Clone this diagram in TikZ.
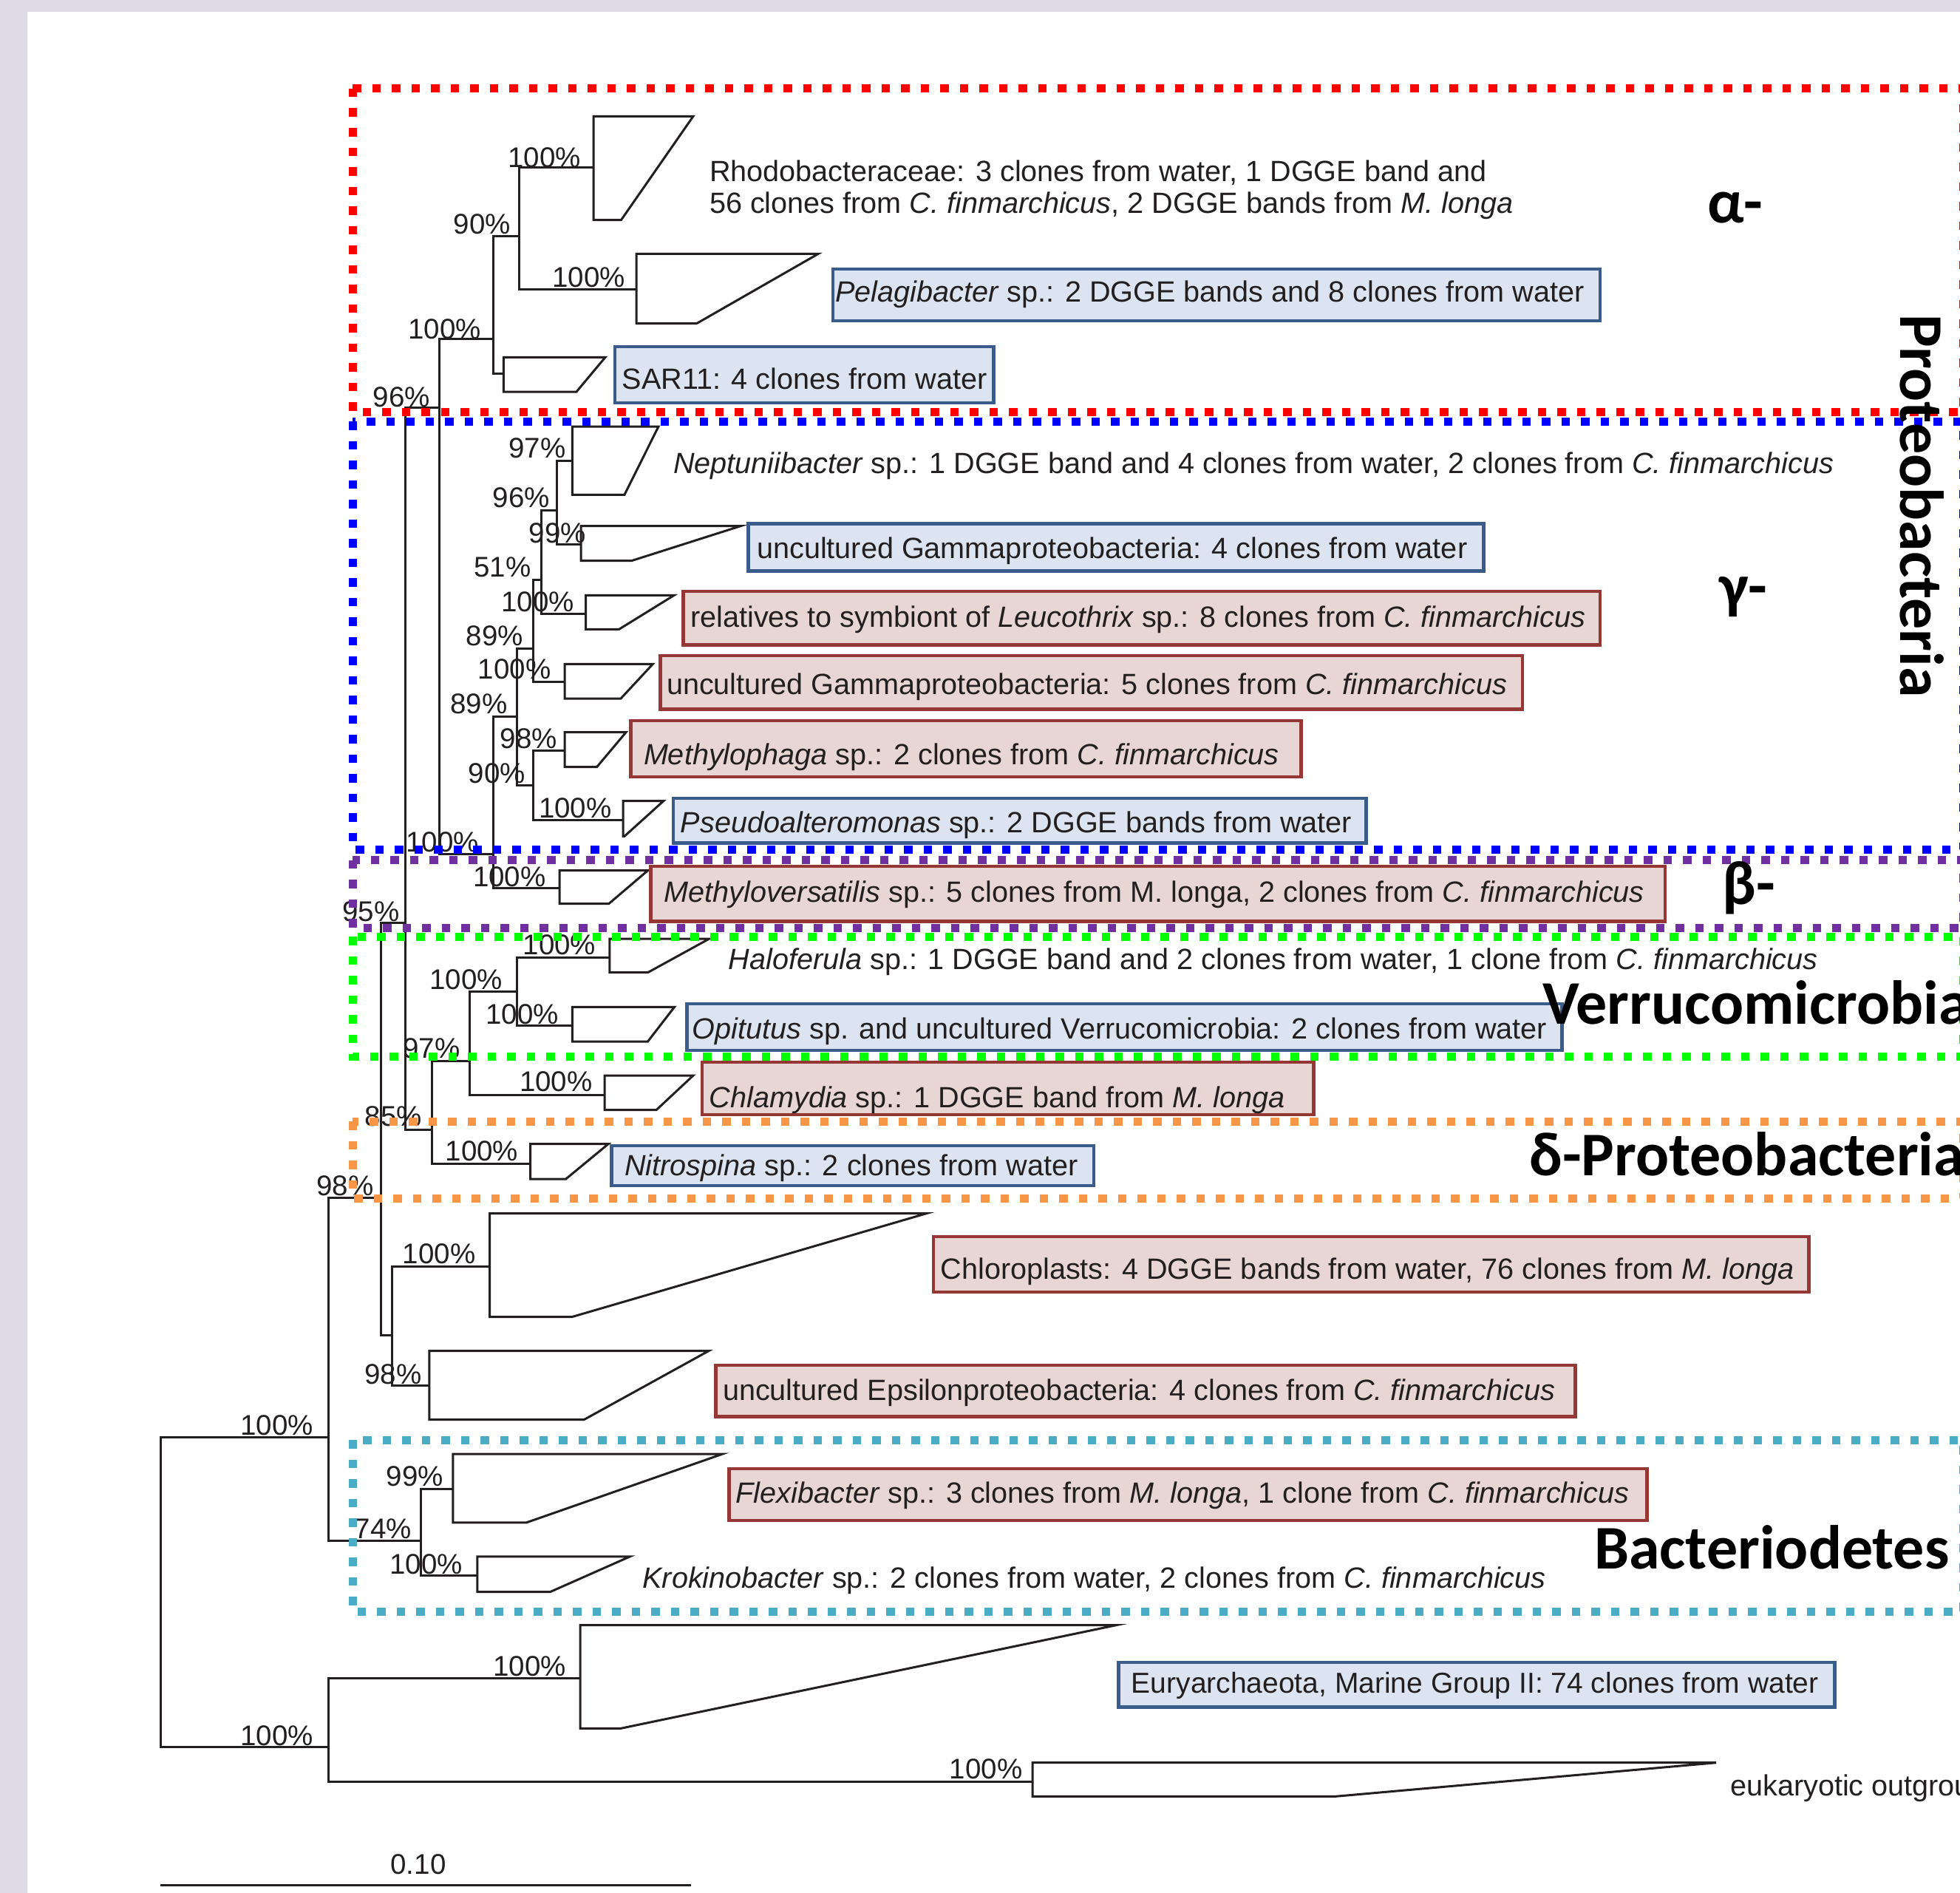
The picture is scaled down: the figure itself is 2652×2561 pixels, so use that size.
\documentclass[tikz,border=0pt]{standalone}
\usepackage{fontspec}
\setmainfont{Liberation Sans}
\newfontfamily\grpfont{Carlito}
\definecolor{pagegray}{RGB}{222,218,230}
\definecolor{ink}{RGB}{35,31,32}
\definecolor{bfill}{RGB}{219,228,240}
\definecolor{bdraw}{RGB}{58,92,138}
\definecolor{rfill}{RGB}{231,214,212}
\definecolor{rdraw}{RGB}{149,55,52}
\definecolor{dRed}{RGB}{255,0,0}
\definecolor{dBlue}{RGB}{0,0,255}
\definecolor{dPurple}{RGB}{112,48,160}
\definecolor{dGreen}{RGB}{0,255,0}
\definecolor{dOrange}{RGB}{247,150,70}
\definecolor{dCyan}{RGB}{75,172,198}
\begin{document}
\begin{tikzpicture}[x=1pt,y=-1pt,
  branch/.style={draw=ink, line width=3pt},
  clade/.style={draw=ink, line width=3pt, line join=miter},
  pct/.style={font=\fontsize{38.5}{40}\selectfont, text=ink, anchor=base east, inner sep=0pt},
  lbl/.style={font=\fontsize{39.6}{44}\selectfont, text=ink, anchor=base west, inner sep=0pt},
  bbox/.style={draw=bdraw, fill=bfill, line width=4.5pt},
  rbox/.style={draw=rdraw, fill=rfill, line width=4.5pt},
  dotbox/.style={line width=11pt, dash pattern=on 11.5pt off 15pt},
  grp/.style={font=\grpfont\bfseries\fontsize{84}{90}\selectfont, text=black, anchor=base west, inner sep=0pt}
]
\useasboundingbox (0,0) rectangle (2652,2561);
\clip (0,0) rectangle (2652,2561);
\fill[pagegray] (0,0) rectangle (2652,2561);
\fill[white] (37,16) rectangle (2652,2561);

% ---------- tree coordinates ----------
\coordinate (root) at (217.3,2150);
\coordinate (nA) at (444.6,1944.6);
\coordinate (nB) at (444,2363.3);
\coordinate (nC) at (515.7,1620);
\coordinate (nD) at (548.5,1248);
\coordinate (nE) at (594.7,551);
\coordinate (nAl) at (667,458);
\coordinate (nA2) at (702.6,319);
\coordinate (lRho) at (803,226);
\coordinate (lPel) at (861,391);
\coordinate (lSAR) at (681.3,505);
\coordinate (nGB) at (667,1155);
\coordinate (nG1) at (699.7,969.7);
\coordinate (nG2) at (721,877.3);
\coordinate (nG3) at (732.4,784.5);
\coordinate (nG4) at (753,690.7);
\coordinate (lNep) at (774.3,623);
\coordinate (lUGB) at (786,736);
\coordinate (lRel) at (792.7,830);
\coordinate (lUGR) at (764,922.9);
\coordinate (nG5) at (721,1062);
\coordinate (lMph) at (764,1015.7);
\coordinate (lPsa) at (843.2,1109.5);
\coordinate (lMvs) at (757,1201);
\coordinate (nF) at (584.8,1528);
\coordinate (nG) at (635.4,1435);
\coordinate (nH) at (699.7,1341.7);
\coordinate (lHal) at (824.8,1295);
\coordinate (lOpi) at (774.3,1387.7);
\coordinate (lChl) at (818,1481);
\coordinate (lNit) at (717.5,1574);
\coordinate (nI) at (530.3,1806);
\coordinate (lChp) at (662.6,1713);
\coordinate (lEps) at (580.8,1874.6);
\coordinate (nJ) at (569.3,2084.4);
\coordinate (lFlx) at (612.9,2014.3);
\coordinate (lKro) at (645.8,2131.25);
\coordinate (lEur) at (785,2270.5);
\coordinate (lEuk) at (1397,2410);

\foreach \p/\c in {root/nA, root/nB, nA/nC, nA/nJ, nB/lEur, nB/lEuk, nC/nD, nC/nI,
  nD/nE, nD/nF, nE/nAl, nE/nGB, nAl/nA2, nAl/lSAR, nA2/lRho, nA2/lPel,
  nGB/nG1, nGB/lMvs, nG1/nG2, nG1/nG5, nG2/nG3, nG2/lUGR, nG3/nG4, nG3/lRel,
  nG4/lNep, nG4/lUGB, nG5/lMph, nG5/lPsa, nF/nG, nF/lNit, nG/nH, nG/lChl,
  nH/lHal, nH/lOpi, nI/lChp, nI/lEps, nJ/lFlx, nJ/lKro}
  \draw[branch] (\p) |- (\c);

% ---------- collapsed clades ----------
\draw[clade] (803,157.3) -- (938,157.3) -- (840.4,297.7) -- (803,297.7) -- cycle;
\draw[clade] (861,343.3) -- (1107.3,343.3) -- (942.5,437.7) -- (861,437.7) -- cycle;
\draw[clade] (681.3,483.3) -- (819,483.3) -- (780,530) -- (681.3,530) -- cycle;
\draw[clade] (774.3,577) -- (891,577) -- (845,669.3) -- (774.3,669.3) -- cycle;
\draw[clade] (786,711.7) -- (1002,711.7) -- (854.7,758.6) -- (786,758.6) -- cycle;
\draw[clade] (792.7,805.4) -- (912,805.4) -- (837.5,851.4) -- (792.7,851.4) -- cycle;
\draw[clade] (764,898.3) -- (883.4,898.3) -- (840,945) -- (764,945) -- cycle;
\draw[clade] (764,990.7) -- (847,990.7) -- (807.6,1037.6) -- (764,1037.6) -- cycle;
\draw[clade] (843.2,1083.6) -- (897.8,1083.6) -- (845,1131.3) -- (843.2,1131.3) -- cycle;
\draw[clade] (757,1177.7) -- (876.5,1177.7) -- (823.7,1222.7) -- (757,1222.7) -- cycle;
\draw[clade] (824.8,1270) -- (959.7,1270) -- (876.5,1315.7) -- (824.8,1315.7) -- cycle;
\draw[clade] (774.3,1362.3) -- (912.6,1362.3) -- (876.5,1409) -- (774.3,1409) -- cycle;
\draw[clade] (818,1455) -- (938,1455) -- (888,1501.7) -- (818,1501.7) -- cycle;
\draw[clade] (717.5,1547.7) -- (823,1547.7) -- (765.7,1595) -- (717.5,1595) -- cycle;
\draw[clade] (662.6,1641.5) -- (1254,1641.5) -- (773.6,1781.7) -- (662.6,1781.7) -- cycle;
\draw[clade] (580.8,1827.7) -- (958.7,1827.7) -- (790.4,1920.5) -- (580.8,1920.5) -- cycle;
\draw[clade] (612.9,1967) -- (977.8,1967) -- (712.4,2059.8) -- (612.9,2059.8) -- cycle;
\draw[clade] (645.8,2105.8) -- (852.4,2105.8) -- (744.5,2153.6) -- (645.8,2153.6) -- cycle;
\draw[clade] (785,2198.7) -- (1510,2198.7) -- (840,2338.3) -- (785,2338.3) -- cycle;
\draw[clade] (1397,2384.7) -- (2322,2384.7) -- (1806,2430.4) -- (1397,2430.4) -- cycle;

% ---------- label boxes ----------
\draw[bbox] (1127,364) rectangle (2165,434);
\draw[bbox] (832,469) rectangle (1344.5,545);
\draw[bbox] (1012.6,708.6) rectangle (2007.6,772.4);
\draw[rbox] (924.7,800) rectangle (2165,872.4);
\draw[rbox] (893.7,887) rectangle (2060,959.5);
\draw[rbox] (853.6,975) rectangle (1760.6,1051);
\draw[bbox] (911,1080) rectangle (1848.6,1140.7);
\draw[rbox] (880.5,1172) rectangle (2252.8,1246.7);
\draw[bbox] (929.3,1358) rectangle (2113.4,1421);
\draw[rbox] (950,1437) rectangle (1777.6,1508);
\draw[bbox] (827.7,1550) rectangle (1480,1604);
\draw[rbox] (1263.2,1673) rectangle (2447.7,1748);
\draw[rbox] (968.7,1847) rectangle (2131.7,1916.5);
\draw[rbox] (986.3,1987) rectangle (2228.5,2057);
\draw[bbox] (1513.7,2249) rectangle (2482.7,2309.7);

% ---------- label texts ----------
\node[lbl] (tRho1) at (959.8,245) {Rhodobacteraceae: 3 clones from water, 1 DGGE band and};
\node[lbl] (tRho2) at (959.8,288.3) {56 clones from \textit{C. finmarchicus}, 2 DGGE bands from \textit{M. longa}};
\node[lbl] (tPel) at (1130,408.5) {\textit{Pelagibacter} sp.: 2 DGGE bands and 8 clones from water};
\node[lbl] (tSAR) at (841.5,526) {SAR11: 4 clones from water};
\node[lbl] (tNep) at (911,640) {\textit{Neptuniibacter} sp.: 1 DGGE band and 4 clones from water, 2 clones from \textit{C. finmarchicus}};
\node[lbl] (tUGB) at (1024,755) {uncultured Gammaproteobacteria: 4 clones from water};
\node[lbl] (tRel) at (934,848) {relatives to symbiont of \textit{Leucothrix} sp.: 8 clones from \textit{C. finmarchicus}};
\node[lbl] (tUGR) at (901.8,939.8) {uncultured Gammaproteobacteria: 5 clones from \textit{C. finmarchicus}};
\node[lbl] (tMph) at (870.8,1034.5) {\textit{Methylophaga} sp.: 2 clones from \textit{C. finmarchicus}};
\node[lbl] (tPsa) at (920.7,1126) {\textit{Pseudoalteromonas} sp.: 2 DGGE bands from water};
\node[lbl] (tMvs) at (898.3,1220) {\textit{Methyloversatilis} sp.: 5 clones from M. longa, 2 clones from \textit{C. finmarchicus}};
\node[lbl] (tHal) at (985.5,1311.7) {\textit{Haloferula} sp.: 1 DGGE band and 2 clones from water, 1 clone from \textit{C. finmarchicus}};
\node[lbl] (tOpi) at (936.7,1405) {\textit{Opitutus} sp. and uncultured Verrucomicrobia: 2 clones from water};
\node[lbl] (tChl) at (959.7,1498) {\textit{Chlamydia} sp.: 1 DGGE band from \textit{M. longa}};
\node[lbl] (tNit) at (845,1590) {\textit{Nitrospina} sp.: 2 clones from water};
\node[lbl] (tChp) at (1272.4,1730) {Chloroplasts: 4 DGGE bands from water, 76 clones from \textit{M. longa}};
\node[lbl] (tEps) at (977.8,1894.6) {uncultured Epsilonproteobacteria: 4 clones from \textit{C. finmarchicus}};
\node[lbl] (tFlx) at (995.4,2033) {\textit{Flexibacter} sp.: 3 clones from \textit{M. longa}, 1 clone from \textit{C. finmarchicus}};
\node[lbl] (tKro) at (869.2,2148) {\textit{Krokinobacter} sp.: 2 clones from water, 2 clones from \textit{C. finmarchicus}};
\node[lbl, font=\fontsize{39}{44}\selectfont] (tEur) at (1530.6,2290.6) {Euryarchaeota, Marine Group II: 74 clones from water};
\node[lbl] (tEuk) at (2341,2429) {eukaryotic outgroup};

% ---------- bootstrap values ----------
\node[pct] (p1) at (786,226) {100\%};
\node[pct] (p2) at (691,316.7) {90\%};
\node[pct] (p3) at (846,388) {100\%};
\node[pct] (p4) at (651,458) {100\%};
\node[pct] (p5) at (582,550) {96\%};
\node[pct] (p6) at (765.7,619) {97\%};
\node[pct] (p7) at (744,686) {96\%};
\node[pct] (p8) at (793,734.5) {99\%};
\node[pct] (p9) at (718.7,780) {51\%};
\node[pct] (p10) at (777,827) {100\%};
\node[pct] (p11) at (708,873.7) {89\%};
\node[pct] (p12) at (745.6,918.4) {100\%};
\node[pct] (p13) at (686.5,965) {89\%};
\node[pct] (p14) at (754,1012) {98\%};
\node[pct] (p15) at (711,1059) {90\%};
\node[pct] (p16) at (827.7,1106) {100\%};
\node[pct] (p17) at (648,1152.8) {100\%};
\node[pct] (p18) at (738.7,1199) {100\%};
\node[pct] (p19) at (540.6,1246) {95\%};
\node[pct] (p20) at (806.4,1291.7) {100\%};
\node[pct] (p21) at (680,1338) {100\%};
\node[pct] (p22) at (756,1385) {100\%};
\node[pct] (p23) at (622.7,1431.7) {97\%};
\node[pct] (p24) at (801.8,1476.7) {100\%};
\node[pct] (p25) at (571,1523) {85\%};
\node[pct] (p26) at (701.4,1570.7) {100\%};
\node[pct] (p27) at (505.8,1617.9) {98\%};
\node[pct] (p28) at (643.5,1709.4) {100\%};
\node[pct] (p29) at (570.8,1872.3) {98\%};
\node[pct] (p30) at (424,1941.5) {100\%};
\node[pct] (p31) at (600,2010.7) {99\%};
\node[pct] (p32) at (557,2081) {74\%};
\node[pct] (p33) at (626,2129) {100\%};
\node[pct] (p34) at (766,2267.4) {100\%};
\node[pct] (p35) at (424,2361) {100\%};
\node[pct] (p36) at (1383.5,2406) {100\%};

% ---------- scale bar ----------
\coordinate (sb1) at (217,2550);
\coordinate (sb2) at (934.8,2550);
\draw[branch] (sb1) -- (sb2);
\node[pct, anchor=base] (sbt) at (566,2535) {0.10};

% ---------- group boxes ----------
\draw[dotbox, draw=dRed] (477,120) rectangle (2656,557);
\draw[dotbox, draw=dBlue] (477,570) rectangle (2656,1149);
\draw[dotbox, draw=dPurple] (477,1163.5) rectangle (2656,1255);
\draw[dotbox, draw=dGreen] (477,1267) rectangle (2656,1429);
\draw[dotbox, draw=dOrange] (477,1517) rectangle (2656,1621);
\draw[dotbox, draw=dCyan] (477,1948) rectangle (2656,2180);

% ---------- group labels ----------
\node[grp] (gAlpha) at (2310,301) {α-};
\node[grp] (gGamma) at (2326,821) {γ-};
\node[grp] (gBeta) at (2330,1223) {β-};
\node[grp] (gVerr) at (2087,1385) {Verrucomicrobia};
\node[grp] (gDelta) at (2069,1590) {δ-Proteobacteria};
\node[grp] (gBact) at (2157,2122) {Bacteriodetes};
\node[grp, rotate=-90] (gProt) at (2571,425) {Proteobacteria};
\end{tikzpicture}
\end{document}
